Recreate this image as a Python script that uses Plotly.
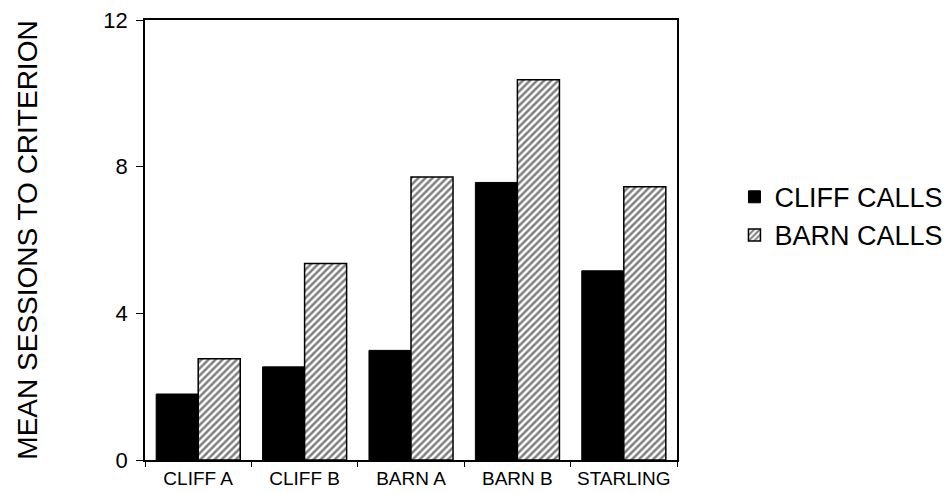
import plotly.graph_objects as go

categories = ["CLIFF A", "CLIFF B", "BARN A", "BARN B", "STARLING"]
cliff_calls = [1.80, 2.54, 2.99, 7.57, 5.16]
barn_calls = [2.76, 5.36, 7.72, 10.37, 7.45]
series_names = ["CLIFF CALLS", "BARN CALLS"]
y_ticks = [0, 4, 8, 12]

FONT = "Liberation Sans, Arial, sans-serif"

fig = go.Figure()
fig.add_trace(go.Bar(
    x=categories, y=cliff_calls, name=series_names[0],
    marker=dict(color="black", line=dict(color="black", width=1)),
))
fig.add_trace(go.Bar(
    x=categories, y=barn_calls, name=series_names[1],
    marker=dict(color="white", line=dict(color="black", width=1.5),
                pattern=dict(shape="/", fgcolor="black", bgcolor="white",
                             size=5, solidity=0.5, fillmode="overlay")),
))

fig.update_layout(
    width=952, height=493,
    margin=dict(l=137, r=280, t=12, b=41),
    paper_bgcolor="white", plot_bgcolor="white",
    barmode="group", bargap=0.21, bargroupgap=0,
    font=dict(family=FONT, color="black"),
    showlegend=True,
    legend=dict(x=1.108, y=0.554, xanchor="left", yanchor="middle",
                font=dict(size=27, family=FONT), tracegroupgap=0,
                bgcolor="rgba(0,0,0,0)", itemwidth=30),
)
fig.update_xaxes(
    type="category", range=[-0.5, 4.5], automargin=False,
    showline=True, linecolor="black", linewidth=1.5, mirror=True,
    ticks="outside", tickson="boundaries", ticklen=5, tickcolor="black",
    tickfont=dict(size=19, family=FONT), showgrid=False,
)
fig.update_yaxes(
    range=[0, 12], tickvals=y_ticks, automargin=False,
    showline=True, linecolor="black", linewidth=1.5, mirror=True,
    ticks="outside", ticklen=7, tickcolor="black", ticklabeloverflow="allow",
    ticklabelstandoff=4,
    tickfont=dict(size=22, family=FONT), showgrid=False, zeroline=False,
    title=dict(text="MEAN SESSIONS TO CRITERION", font=dict(size=28, family=FONT), standoff=58),
)

fig.write_html("out.html")
